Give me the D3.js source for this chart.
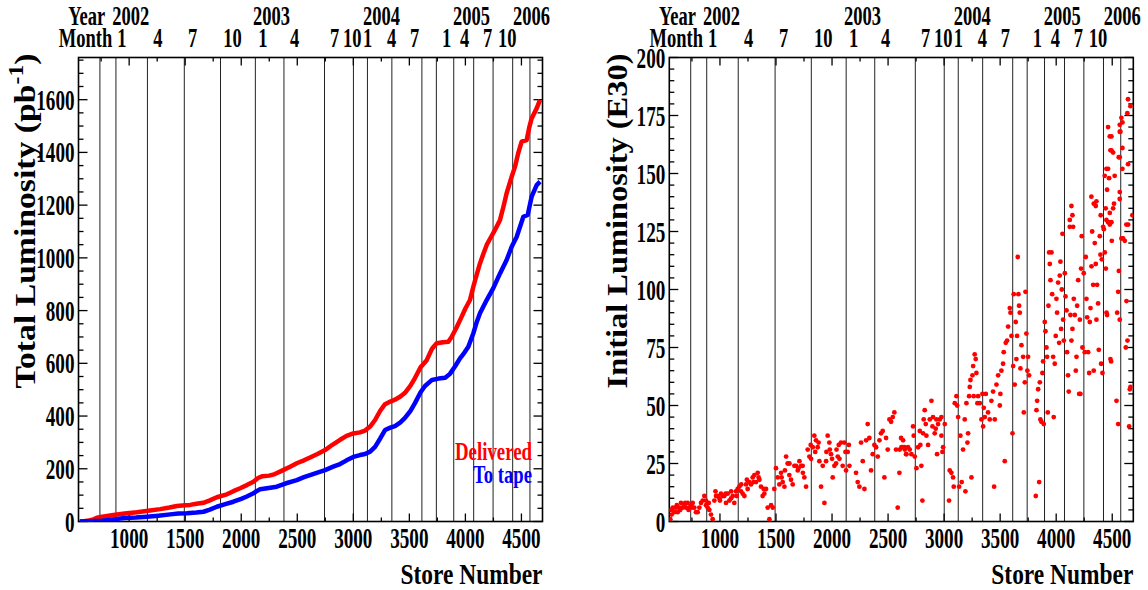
<!DOCTYPE html>
<html><head><meta charset="utf-8">
<script src="https://cdn.jsdelivr.net/npm/d3@7"></script>
<style>body{margin:0;background:#fff}svg{display:block}</style>
</head><body>
<svg id="c" width="1148" height="590"></svg>
<script>
// ---------- data ----------
const storeTicks = [1000,1500,2000,2500,3000,3500,4000,4500];
const totalLumTicks = [0,200,400,600,800,1000,1200,1400,1600];
const initLumTicks = [0,25,50,75,100,125,150,175,200];
const monthLines = [739,882,1163,1492,1815,2126,2381,2743,3001,3126,3344,3612,3741,3896,4074,4247,4422,4576];
const yearLabels = ["Year","2002","2003","2004","2005","2006"];
const yearPos = [456,849,2106,3087,3890,4425];
const monthLabels = ["Month","1","4","7","10","1","4","7","10","1","4","7","1","4","7","10"];
const monthPos = [372,893,1214,1526,1839,2151,2436,2793,2909,3087,3301,3506,3791,3952,4157,4291];

const delivered = [[560,0],[600,1],[640,4],[682,8],[712,14],[760,18],[860,25],[960,30],[1069,35],[1170,41],[1277,47],[1360,53],[1426,59],[1500,62],[1544,63],[1600,67],[1663,71],[1720,80],[1782,92],[1872,103],[1930,115],[1990,126],[2050,138],[2109,151],[2150,165],[2190,172],[2250,174],[2300,180],[2360,192],[2436,208],[2500,222],[2560,232],[2614,243],[2680,256],[2748,271],[2810,290],[2882,310],[2940,325],[3000,334],[3060,338],[3105,345],[3150,360],[3194,385],[3240,420],[3283,445],[3330,455],[3372,462],[3420,474],[3461,488],[3510,515],[3550,544],[3600,585],[3655,612],[3702,655],[3744,676],[3800,680],[3848,682],[3878,701],[3920,735],[3967,777],[4000,808],[4041,840],[4071,891],[4100,935],[4130,979],[4160,1015],[4190,1049],[4230,1080],[4264,1106],[4309,1144],[4340,1195],[4368,1245],[4413,1308],[4443,1346],[4470,1395],[4502,1441],[4547,1447],[4570,1495],[4591,1529],[4636,1567],[4666,1599]];
const toTape = [[560,0],[640,1],[700,2],[760,3],[820,6],[880,9],[960,13],[1060,15],[1158,18],[1260,22],[1366,27],[1440,30],[1515,31],[1600,34],[1663,37],[1720,45],[1782,56],[1850,65],[1930,75],[2000,86],[2050,95],[2109,107],[2140,116],[2168,122],[2230,126],[2317,132],[2400,145],[2496,157],[2560,168],[2614,176],[2700,188],[2748,195],[2820,208],[2882,218],[2940,232],[3000,245],[3060,252],[3105,256],[3150,265],[3194,283],[3240,315],[3283,347],[3330,356],[3372,362],[3420,376],[3461,393],[3510,420],[3550,449],[3600,490],[3640,514],[3702,537],[3760,542],[3820,545],[3862,560],[3910,590],[3952,619],[3990,640],[4026,663],[4071,714],[4100,755],[4130,790],[4190,840],[4249,885],[4309,941],[4368,992],[4413,1042],[4458,1080],[4517,1156],[4556,1163],[4591,1232],[4636,1276],[4666,1289]];

const initialLum = [
[557,1],[563,5],[569,3],[580,6],[593,4],[608,6],[615,7],[623,4],[638,6],[645,5],[652,8],[667,6],[682,7],[690,8],[697,6],[712,8],[720,5],[727,6],[742,7],[750,6],[757,8],[771,6],
[786,4],[801,4],[816,6],[831,8],[846,9],[861,11],[875,9],[876,7],[890,6],[900,8],[905,5],[920,3],[935,1],
[950,9],[960,13],[965,11],[980,11],[995,10],[1000,9],[1009,12],[1024,11],[1039,11],[1050,12],[1054,8],[1069,12],[1084,9],[1099,10],[1100,13],[1114,11],[1128,8],[1143,13],[1150,11],[1158,14],[1173,15],[1188,13],[1190,16],[1203,12],[1218,11],[1233,16],[1240,18],[1247,14],[1262,17],[1277,16],[1292,19],[1300,17],[1307,20],[1322,17],[1337,21],[1345,19],[1352,18],[1366,15],[1381,11],[1390,14],[1396,12],[1411,14],[1426,6],[1441,1],[1456,7],[1471,6],[1485,14],
[1500,23],[1515,19],[1530,16],[1545,21],[1550,19],[1560,17],[1575,15],[1580,22],[1590,28],[1604,25],[1619,20],[1620,25],[1634,18],[1649,16],[1664,24],[1679,24],[1694,22],[1700,23],[1709,26],[1724,24],[1738,24],[1740,21],[1753,19],[1768,15],[1783,31],[1798,28],[1810,33],[1813,27],[1828,32],[1842,37],[1850,30],[1857,35],[1872,32],[1880,34],[1887,26],[1902,15],[1917,24],[1932,8],[1947,26],[1950,30],[1961,37],[1976,34],[1980,31],[1991,29],[2000,27],[2006,19],[2021,24],[2036,25],[2040,31],[2051,28],[2060,33],[2066,27],[2080,34],[2095,24],[2110,34],[2120,30],[2125,22],[2140,30],[2150,33],[2155,24],
[2214,21],[2229,17],[2244,15],[2259,34],[2274,26],[2289,14],[2304,35],[2318,42],[2333,36],[2348,22],[2363,29],[2378,33],[2393,32],[2408,28],[2423,35],[2437,38],[2452,39],[2467,19],[2482,36],[2497,31],[2512,44],[2527,43],[2542,45],[2556,47],[2571,31],[2586,6],[2601,21],[2616,36],[2631,32],[2646,32],[2661,29],
[2604,31],[2619,32],[2634,35],[2649,31],[2663,29],[2678,32],[2693,31],[2708,29],[2723,41],[2729,37],[2738,28],[2753,23],[2768,32],[2783,39],[2788,33],[2797,24],[2806,9],[2812,38],[2818,44],[2827,48],[2836,42],[2842,37],[2857,33],[2872,44],[2887,52],[2896,41],[2901,45],[2916,38],[2925,40],[2931,44],[2937,29],[2946,42],[2961,44],[2976,37],[2976,45],[2985,30],[2991,32],[3006,42],
[3044,9],[3050,22],[3065,21],[3080,19],[3086,15],[3095,51],[3110,54],[3116,50],[3125,45],[3134,15],[3145,37],[3157,17],[3169,31],[3184,44],[3190,13],[3199,51],[3208,34],[3214,38],[3223,54],[3229,58],[3235,61],[3244,19],[3253,63],[3259,67],[3264,54],[3273,72],[3282,70],[3288,64],[3297,51],[3303,54],[3318,51],[3333,44],[3342,55],[3348,41],[3354,49],[3363,45],[3372,55],
[3392,47],[3407,44],[3422,52],[3437,56],[3446,15],[3452,44],[3467,59],[3482,63],[3497,50],[3502,55],[3511,65],[3526,68],[3532,73],[3541,26],[3550,77],[3562,78],[3571,84],[3586,92],[3592,90],[3601,80],[3610,38],[3616,67],[3621,98],[3630,59],[3639,86],[3645,70],[3651,80],[3657,114],[3663,98],[3669,93],[3675,90],[3681,66],[3690,76],[3705,71],[3711,47],[3720,60],[3726,99],[3734,81],[3743,65],[3749,71],[3758,63],
[3818,11],[3824,48],[3830,52],[3839,57],[3848,17],[3854,60],[3859,44],[3868,43],[3877,64],[3883,69],[3889,42],[3898,86],[3904,82],[3913,75],[3919,71],[3925,47],[3931,93],[3937,116],[3943,111],[3949,104],[3958,116],[3964,98],[3973,71],[3978,45],[3987,68],[3996,80],[4002,96],[4008,90],[4017,103],[4026,77],[4032,106],[4038,112],[4044,83],[4050,100],[4056,124],[4062,87],[4068,78],[4077,107],[4083,97],[4092,91],[4097,73],[4106,63],[4112,56],[4121,127],[4127,89],[4136,78],[4145,83],[4151,127],[4157,96],[4166,89],[4175,65],[4181,71],[4187,93],[4196,104],[4205,55],[4211,87],[4216,55],[4222,109],[4228,123],[4234,75],
[4246,107],[4255,73],[4264,114],[4270,96],[4276,88],[4285,73],[4294,64],[4300,86],[4306,92],[4315,110],[4321,125],[4330,102],[4335,65],[4344,120],[4353,111],[4359,87],[4365,102],[4374,94],[4380,74],[4389,123],[4395,115],[4401,68],[4407,113],[4413,64],[4419,127],[4425,126],[4434,116],[4443,109],[4449,90],[4454,89],[4463,129],[4472,129],[4478,128],[4484,70],[4490,69],[4496,121],[4538,52],[4544,90],[4553,99],[4559,108],[4567,87],[4582,122],[4597,122],[4612,121],[4621,75],[4627,95],[4636,78],[4642,128],[4657,57],[4663,58],[4651,41],[4553,42],
[4136,136],[4121,130],[4145,132],[4314,140],[4335,137],[4359,138],[4353,136],[4397,132],[4463,170],[4478,166],[4493,166],[4484,160],[4493,160],[4508,159],[4448,152],[4463,152],[4472,148],[4433,149],[4522,149],[4454,143],[4567,171],[4582,174],[4591,172],[4573,168],[4567,168],[4591,161],[4567,157],[4558,157],[4591,152],[4641,182],[4635,176],[4662,179],[4641,154],[4567,142],[4567,139],[4516,137],[4508,135],[4478,133],[4442,135],[4448,130],[4680,132],[4493,129],[4626,128]
];

// ---------- drawing ----------
const svg = d3.select("#c");
const FONT = "'Liberation Serif','Times New Roman',serif";
const TOP = 57.5, BOT = 521.5;
const SX = 0.66; // horizontal condensation of the labels

function txt(g, s, x, y, o = {}) {
  const t = g.append("text")
    .attr("font-family", FONT).attr("font-weight", "bold")
    .attr("font-size", o.size || 28)
    .attr("fill", o.fill || "#000")
    .attr("text-anchor", o.anchor || "start");
  if (o.sup) {
    t.append("tspan").text(s);
    t.append("tspan").attr("font-size", (o.size || 28) * 0.7).attr("dy", -12).text(o.sup);
    t.append("tspan").attr("dy", 12).text(o.after || "");
  } else t.text(s);
  let sx = o.sx || SX;
  if (o.width) sx = o.width / t.node().getComputedTextLength();
  t.attr("transform", `translate(${x},${y}) rotate(${o.rot || 0}) scale(${sx},${o.sy || 1})`);
  return t;
}

function panel(x0, x1, yMax, yTicks, yMinorStep, yTitle, ySup, ySupAfter, titleX) {
  const g = svg.append("g");
  const x = d3.scaleLinear().domain([548, 4688]).range([x0, x1]);
  const y = d3.scaleLinear().domain([0, yMax]).range([BOT, TOP]);
  const clipId = "clip" + Math.round(x0);
  svg.append("clipPath").attr("id", clipId).append("rect")
    .attr("x", x0).attr("y", TOP).attr("width", x1 - x0).attr("height", BOT - TOP);

  // month lines
  g.selectAll("line.m").data(monthLines).join("line")
    .attr("x1", d => x(d)).attr("x2", d => x(d)).attr("y1", TOP).attr("y2", BOT)
    .attr("stroke", "#222").attr("stroke-width", 1);

  // x ticks bottom & top (every 250)
  const xt = d3.range(750, 4688, 250);
  g.selectAll("line.xb").data(xt).join("line")
    .attr("x1", d => x(d)).attr("x2", d => x(d))
    .attr("y1", BOT).attr("y2", d => BOT - (d % 500 === 0 ? 8 : 4))
    .attr("stroke", "#000").attr("stroke-width", 1.3);
  g.selectAll("line.xt").data(xt).join("line")
    .attr("x1", d => x(d)).attr("x2", d => x(d))
    .attr("y1", TOP).attr("y2", d => TOP + (d % 500 === 0 ? 8 : 4))
    .attr("stroke", "#000").attr("stroke-width", 1.3);

  // y ticks left & right
  const yt = d3.range(0, yMax + 0.001, yMinorStep);
  const isMajor = d => yTicks.some(v => Math.abs(v - d) < 1e-6);
  g.selectAll("line.yl").data(yt).join("line")
    .attr("x1", x0).attr("x2", d => x0 + (isMajor(d) ? 9 : 5))
    .attr("y1", d => y(d)).attr("y2", d => y(d))
    .attr("stroke", "#000").attr("stroke-width", 1.3);
  g.selectAll("line.yr").data(yt).join("line")
    .attr("x1", x1).attr("x2", d => x1 - (isMajor(d) ? 9 : 5))
    .attr("y1", d => y(d)).attr("y2", d => y(d))
    .attr("stroke", "#000").attr("stroke-width", 1.3);

  // frame
  g.append("rect").attr("x", x0).attr("y", TOP).attr("width", x1 - x0).attr("height", BOT - TOP)
    .attr("fill", "none").attr("stroke", "#000").attr("stroke-width", 1.6);

  // tick labels
  storeTicks.forEach(v => txt(g, String(v), x(v), 548, { anchor: "middle", size: 29 }));
  yTicks.forEach(v => txt(g, String(v), x0 - 4, y(v) + 10, { anchor: "end", size: 29 }));

  // top labels
  yearLabels.forEach((s, i) => txt(g, s, x(yearPos[i]), 25, { size: 28 }));
  monthLabels.forEach((s, i) => txt(g, s, x(monthPos[i]), 47, { size: 28 }));

  // titles
  txt(g, "Store Number", x1, 584, { anchor: "end", size: 30, width: 142 });
  txt(g, yTitle, titleX, 221, { anchor: "middle", size: 30, rot: -90, width: 335, sup: ySup, after: ySupAfter });

  return { g, x, y, clipId };
}

// left panel
const L = panel(78.5, 542.5, 1760, totalLumTicks, 50, "Total Luminosity (pb", "-1", ")", 35);
const line = d3.line().x(d => L.x(d[0])).y(d => L.y(d[1]));
const cg = L.g.append("g").attr("clip-path", `url(#${L.clipId})`);
cg.append("path").datum(delivered).attr("d", line).attr("fill", "none")
  .attr("stroke", "#ff0000").attr("stroke-width", 4.5).attr("stroke-linejoin", "round");
cg.append("path").datum(toTape).attr("d", line).attr("fill", "none")
  .attr("stroke", "#0000ff").attr("stroke-width", 4.5).attr("stroke-linejoin", "round");
txt(L.g, "Delivered", 532, 460, { anchor: "end", size: 26, width: 77, fill: "#ff0000" });
txt(L.g, "To tape", 532, 483, { anchor: "end", size: 26, width: 59, fill: "#0000ff" });

// right panel
const R = panel(669.3, 1133.3, 200, initLumTicks, 5, "Initial Luminosity (E30)", null, null, 627);
R.g.append("g").attr("clip-path", `url(#${R.clipId})`)
  .selectAll("circle").data(initialLum).join("circle")
  .attr("cx", d => R.x(d[0])).attr("cy", d => R.y(d[1])).attr("r", 2.4)
  .attr("fill", "#ff0000");
</script>
</body></html>
